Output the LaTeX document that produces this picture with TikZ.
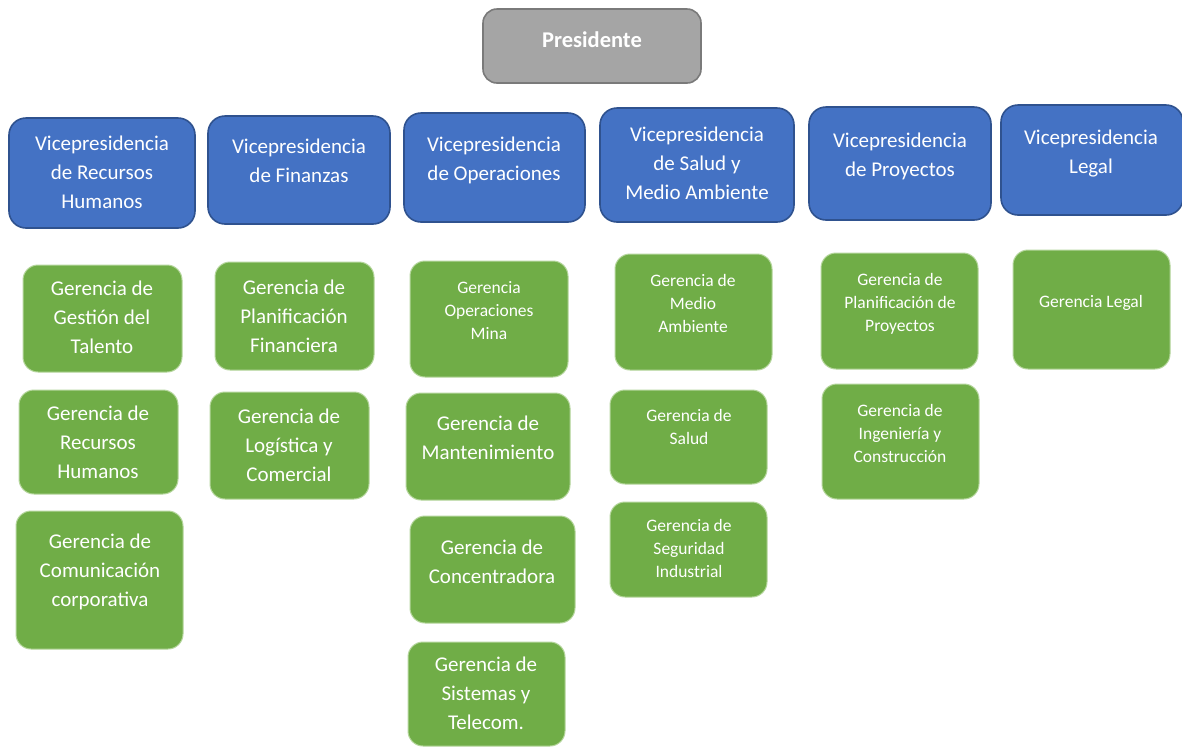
\documentclass[tikz,border=0pt]{standalone}
\usepackage{fontspec}
\setmainfont{Carlito}
\usetikzlibrary{fit}
\definecolor{vpblue}{HTML}{4472C4}
\definecolor{vpedge}{HTML}{2F528F}
\definecolor{mgreen}{HTML}{70AD47}
\definecolor{medge}{HTML}{B5D69C}
\definecolor{pgray}{HTML}{A5A5A5}
\definecolor{pedge}{HTML}{7A7A7A}
% strut centred on the visual middle of a line of capitals
\newcommand\ls{\rule[-0.18em]{0pt}{1em}}
\tikzset{
  presbox/.style={rectangle, rounded corners=14pt, fill=pgray, draw=pedge, line width=1.6pt, inner sep=0pt},
  vpbox/.style={rectangle, rounded corners=17pt, fill=vpblue, draw=vpedge, line width=1.6pt, inner sep=0pt},
  gbox/.style={rectangle, rounded corners=15pt, fill=mgreen, draw=medge, line width=1pt, inner sep=0pt},
  bigtxt/.style={text=white, align=center, inner sep=0pt, font=\fontsize{21}{29}\selectfont},
  smalltxt/.style={text=white, align=center, inner sep=0pt, font=\fontsize{17.5}{23}\selectfont},
  prestxt/.style={text=white, align=center, inner sep=0pt, font=\fontsize{22.5}{27}\selectfont\bfseries},
}
\begin{document}
\begin{tikzpicture}[x=1pt, y=-1pt]
\useasboundingbox[fill=white] (0,0) rectangle (1182,748);

% top level
\node[presbox, fit={(483,9) (701,83)}] (pres) {};
\node[prestxt] (pres-t) at (592,40) {\ls Presidente};

% vice-presidencies
\node[vpbox, fit={(9,118) (195,228)}] (vp1) {};
\node[vpbox, fit={(208,116) (390,224)}] (vp2) {};
\node[vpbox, fit={(404,113) (585,222)}] (vp3) {};
\node[vpbox, fit={(600,108) (794,222)}] (vp4) {};
\node[vpbox, fit={(809,107) (991,220)}] (vp5) {};
\node[vpbox, fit={(1001,105) (1183,215)}] (vp6) {};

\node[bigtxt] (vp1-t) at (102,173) {\ls Vicepresidencia\\\ls de Recursos\\\ls Humanos};
\node[bigtxt] (vp2-t) at (299,161.5) {\ls Vicepresidencia\\\ls de Finanzas};
\node[bigtxt] (vp3-t) at (494,159) {\ls Vicepresidencia\\\ls de Operaciones};
\node[bigtxt] (vp4-t) at (697,164) {\ls Vicepresidencia\\\ls de Salud y\\\ls Medio Ambiente};
\node[bigtxt] (vp5-t) at (900,155.5) {\ls Vicepresidencia\\\ls de Proyectos};
\node[bigtxt] (vp6-t) at (1091,152) {\ls Vicepresidencia\\\ls Legal};

% human resources
\node[gbox, fit={(23,265) (182,372)}] (g1a) {};
\node[gbox, fit={(19,390) (178,494)}] (g1b) {};
\node[gbox, fit={(16,511) (183,649)}] (g1c) {};
\node[bigtxt] (g1a-t) at (102,318) {\ls Gerencia de\\\ls Gestión del\\\ls Talento};
\node[bigtxt] (g1b-t) at (98,443) {\ls Gerencia de\\\ls Recursos\\\ls Humanos};
\node[bigtxt] (g1c-t) at (100,571) {\ls Gerencia de\\\ls Comunicación\\\ls corporativa};

% finance
\node[gbox, fit={(215,262) (374,370)}] (g2a) {};
\node[gbox, fit={(210,392) (369,499)}] (g2b) {};
\node[bigtxt] (g2a-t) at (294,317) {\ls Gerencia de\\\ls Planificación\\\ls Financiera};
\node[bigtxt] (g2b-t) at (289,446) {\ls Gerencia de\\\ls Logística y\\\ls Comercial};

% operations
\node[gbox, fit={(410,261) (568,377)}] (g3a) {};
\node[gbox, fit={(406,393) (570,500)}] (g3b) {};
\node[gbox, fit={(410,516) (575,623)}] (g3c) {};
\node[gbox, fit={(408,642) (565,746)}] (g3d) {};
\node[smalltxt] (g3a-t) at (489,311) {\ls Gerencia\\\ls Operaciones\\\ls Mina};
\node[bigtxt] (g3b-t) at (488,438.5) {\ls Gerencia de\\\ls Mantenimiento};
\node[bigtxt] (g3c-t) at (492,562) {\ls Gerencia de\\\ls Concentradora};
\node[bigtxt] (g3d-t) at (486,694) {\ls Gerencia de\\\ls Sistemas y\\\ls Telecom.};

% health and environment
\node[gbox, fit={(615,254) (772,370)}] (g4a) {};
\node[gbox, fit={(610,390) (767,484)}] (g4b) {};
\node[gbox, fit={(610,502) (767,597)}] (g4c) {};
\node[smalltxt] (g4a-t) at (693,304) {\ls Gerencia de\\\ls Medio\\\ls Ambiente};
\node[smalltxt] (g4b-t) at (689,427.5) {\ls Gerencia de\\\ls Salud};
\node[smalltxt] (g4c-t) at (689,549) {\ls Gerencia de\\\ls Seguridad\\\ls Industrial};

% projects
\node[gbox, fit={(821,253) (978,369)}] (g5a) {};
\node[gbox, fit={(822,384) (979,499)}] (g5b) {};
\node[smalltxt] (g5a-t) at (900,303) {\ls Gerencia de\\\ls Planificación de\\\ls Proyectos};
\node[smalltxt] (g5b-t) at (900,433.5) {\ls Gerencia de\\\ls Ingeniería y\\\ls Construcción};

% legal
\node[gbox, fit={(1013,250) (1170,369)}] (g6a) {};
\node[smalltxt] (g6a-t) at (1091,302) {\ls Gerencia Legal};
\end{tikzpicture}
\end{document}
